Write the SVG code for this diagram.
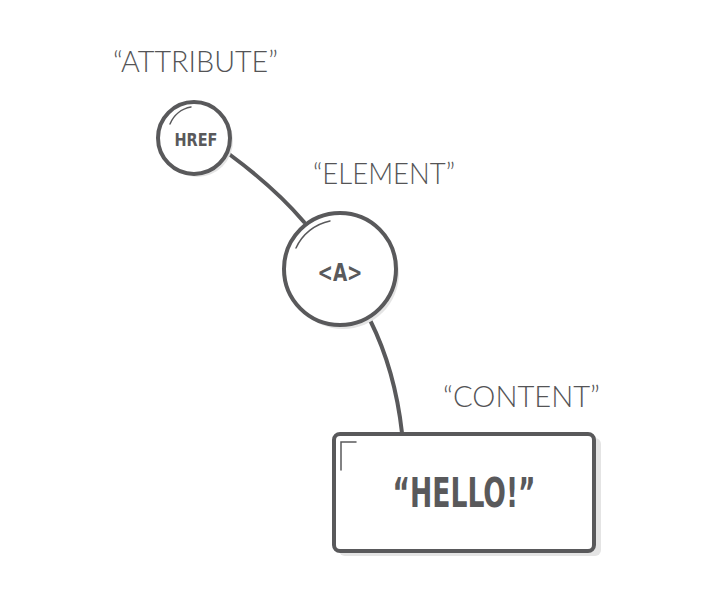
<svg xmlns="http://www.w3.org/2000/svg" width="716" height="602" viewBox="0 0 716 602">
<style>
.lbl{font-family:"Lato","Liberation Sans",sans-serif;font-weight:300;font-size:29px;fill:#545456}
.node{fill:#fff;stroke:#59595b;stroke-width:4}
.shadow{fill:#e4e4e4}
.hl{fill:none;stroke:#59595b;stroke-width:1.5;stroke-linecap:round}
.in{font-family:"DejaVu Sans Condensed","DejaVu Sans",sans-serif;font-weight:bold;fill:#59595b;text-anchor:middle}
.conn{fill:none;stroke:#59595b;stroke-width:4;stroke-linecap:round}
</style>
<rect width="716" height="602" fill="#fff"/>
<g id="connectors">
<path class="conn" d="M229,154 Q275,188 304,222"/>
<path class="conn" d="M370,320 Q395,370 402,433"/>
</g>
<g id="attribute">
<text class="lbl" x="113" y="72" textLength="165" lengthAdjust="spacingAndGlyphs">“ATTRIBUTE”</text>
<circle class="shadow" cx="197" cy="141" r="36"/>
<circle class="node" cx="194" cy="138" r="36"/>
<path class="hl" d="M170,124 A28,28 0 0 1 191,107"/>
<text class="in" x="196" y="146" font-size="17" textLength="43" lengthAdjust="spacingAndGlyphs">HREF</text>
</g>
<g id="element">
<text class="lbl" x="313" y="184" textLength="142" lengthAdjust="spacingAndGlyphs">“ELEMENT”</text>
<circle class="shadow" cx="343" cy="273" r="56"/>
<circle class="node" cx="340" cy="269" r="56"/>
<path class="hl" d="M296,248 A48,48 0 0 1 330,221"/>
<text class="in" x="340" y="281" font-size="24" textLength="45" lengthAdjust="spacingAndGlyphs">&lt;A&gt;</text>
</g>
<g id="content">
<text class="lbl" x="443" y="407" textLength="157" lengthAdjust="spacingAndGlyphs">“CONTENT”</text>
<rect class="shadow" x="339" y="438" width="262" height="118" rx="6"/>
<rect class="node" x="334" y="434" width="260" height="117" rx="6"/>
<path class="hl" d="M341,470 V442 H356" stroke-linecap="butt"/>
<text class="in" x="464" y="507" font-size="40" textLength="143" lengthAdjust="spacingAndGlyphs">“HELLO!”</text>
</g>
</svg>
